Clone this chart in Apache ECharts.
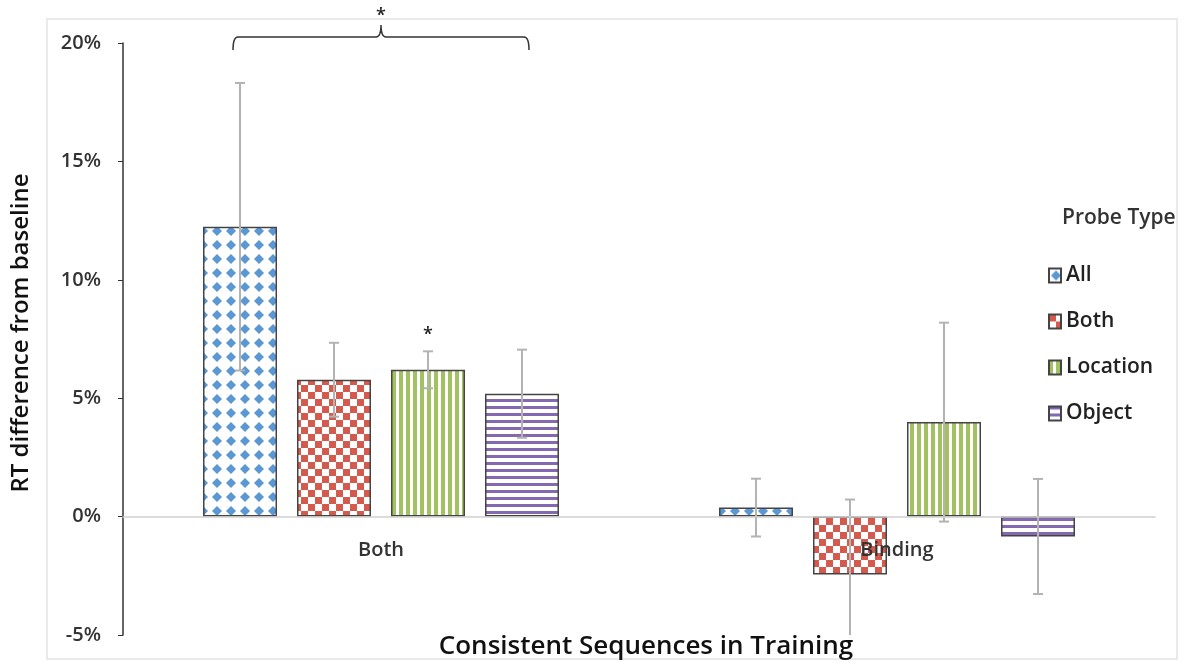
<!DOCTYPE html>
<html lang="en">
<head>
<meta charset="UTF-8">
<title>RT difference from baseline</title>
<script src="https://cdn.jsdelivr.net/npm/echarts@6/dist/echarts.min.js"></script>
<style>
  html, body { margin: 0; padding: 0; background: #fff; }
  #chart { width: 1188px; height: 666px; }
</style>
</head>
<body>
<div id="chart"></div>
<script>
// values in percent
const categories = ['Both', 'Binding'];
const probeTypes = ['All', 'Both', 'Location', 'Object'];
const allVals = [12.24, 0.38];
const allErr = [6.07, 1.22];
const bothVals = [5.78, -2.45];
const bothErr = [1.56, 3.17];
const locationVals = [6.2, 3.99];
const locationErr = [0.78, 4.2];
const objectVals = [5.19, -0.84];
const objectErr = [1.86, 2.43];
const locationSig = ['*', ''];
const yTicks = [-5, 0, 5, 10, 15, 20];

const FONT = '"Open Sans"';
const BAR_W = 74;
const BAR_GAP = 20;

function makePattern(kind) {
  const c = document.createElement('canvas');
  const ctx = c.getContext('2d');
  if (kind === 'dots') {
    c.width = 14; c.height = 14;
    ctx.fillStyle = '#fff'; ctx.fillRect(0, 0, 14, 14);
    ctx.fillStyle = '#5b97d3';
    ctx.beginPath();
    ctx.moveTo(7, 2); ctx.lineTo(12, 7); ctx.lineTo(7, 12); ctx.lineTo(2, 7);
    ctx.closePath(); ctx.fill();
  } else if (kind === 'checker') {
    c.width = 14; c.height = 14;
    ctx.fillStyle = '#fff'; ctx.fillRect(0, 0, 14, 14);
    ctx.fillStyle = '#d35a4d';
    ctx.fillRect(0, 0, 7, 7); ctx.fillRect(7, 7, 7, 7);
  } else if (kind === 'vstripe') {
    c.width = 7; c.height = 7;
    ctx.fillStyle = '#fff'; ctx.fillRect(0, 0, 7, 7);
    ctx.fillStyle = '#a2c160';
    ctx.fillRect(0, 0, 4, 7);
  } else {
    c.width = 7; c.height = 7;
    ctx.fillStyle = '#fff'; ctx.fillRect(0, 0, 7, 7);
    ctx.fillStyle = '#8468b0';
    ctx.fillRect(0, 0, 7, 3);
  }
  return { image: c, repeat: 'repeat' };
}

const seriesVals = [allVals, bothVals, locationVals, objectVals];
const seriesErr = [allErr, bothErr, locationErr, objectErr];
const patterns = ['dots', 'checker', 'vstripe', 'hstripe'];

// rows for the error bar series: [category, series, value, err]
const errRows = [];
seriesVals.forEach((vals, s) => {
  vals.forEach((v, c) => errRows.push([c, s, v, seriesErr[s][c]]));
});

const chart = echarts.init(document.getElementById('chart'));

const barSeries = probeTypes.map((name, s) => ({
  name: name,
  type: 'bar',
  barWidth: BAR_W,
  barGap: (BAR_GAP / BAR_W * 100) + '%',
  data: seriesVals[s],
  itemStyle: {
    color: makePattern(patterns[s]),
    borderColor: '#444',
    borderWidth: 1.5
  },
  z: 2
}));

const errorSeries = {
  type: 'custom',
  name: 'err',
  clip: true,
  z: 5,
  data: errRows,
  renderItem: function (params, api) {
    const c = api.value(0), s = api.value(1), v = api.value(2), e = api.value(3);
    const off = (s - 1.5) * (BAR_W + BAR_GAP);
    const top = api.coord([c, v + e]);
    const bot = api.coord([c, v - e]);
    const x = top[0] + off;
    const cap = 5;
    const style = { stroke: '#b3b3b3', lineWidth: 2 };
    const children = [
      { type: 'line', shape: { x1: x, y1: top[1], x2: x, y2: bot[1] }, style: style },
      { type: 'line', shape: { x1: x - cap, y1: top[1], x2: x + cap, y2: top[1] }, style: style },
      { type: 'line', shape: { x1: x - cap, y1: bot[1], x2: x + cap, y2: bot[1] }, style: style }
    ];
    if (s === 2 && locationSig[c]) {
      children.push({
        type: 'text',
        style: { text: locationSig[c], x: x, y: top[1] - 7, align: 'center', verticalAlign: 'bottom',
          font: '600 18px ' + FONT, fill: '#222' }
      });
    }
    return { type: 'group', children: children };
  }
};

chart.setOption({
  animation: false,
  title: {
    text: 'Probe Type',
    left: 1057,
    top: 203,
    textStyle: { fontFamily: FONT, fontSize: 21, fontWeight: 600, color: '#333' }
  },
  legend: {
    data: probeTypes,
    orient: 'vertical',
    icon: 'rect',
    left: 1043,
    top: 260,
    itemWidth: 12,
    itemHeight: 14,
    itemGap: 25,
    textStyle: { fontFamily: FONT, fontSize: 21, fontWeight: 600, color: '#222' }
  },
  grid: { left: 123, right: 33, top: 43, bottom: 31, outerBoundsMode: 'none' },
  xAxis: {
    type: 'category',
    data: categories,
    z: 10,
    axisLine: { onZero: true, lineStyle: { color: '#d0d0d0', width: 1.5 } },
    axisTick: { show: false },
    // labels sit just under the zero line, which is above the grid bottom
    axisLabel: { margin: -95, fontFamily: FONT, fontSize: 20, fontWeight: 600, color: '#333' },
    name: 'Consistent Sequences in Training',
    nameLocation: 'middle',
    nameGap: -1,
    nameTextStyle: { fontFamily: FONT, fontSize: 26, fontWeight: 600, color: '#111', padding: [0, 0, 0, 14] }
  },
  yAxis: {
    type: 'value',
    min: yTicks[0],
    max: yTicks[yTicks.length - 1],
    interval: 5,
    axisLine: { show: true, lineStyle: { color: '#333', width: 1.5 } },
    axisTick: { show: true, inside: false, length: 5, lineStyle: { color: '#333' } },
    splitLine: { show: false },
    axisLabel: {
      margin: 22,
      formatter: v => v + '%',
      fontFamily: FONT, fontSize: 20, fontWeight: 600, color: '#333'
    },
    name: 'RT difference from baseline',
    nameLocation: 'middle',
    nameGap: 90,
    nameRotate: 90,
    nameTextStyle: { fontFamily: FONT, fontSize: 24, fontWeight: 600, color: '#111', padding: [0, 0, 0, 12] }
  },
  series: barSeries.concat([errorSeries])
});

// significance bracket over the first group, drawn as a polyline
const c0 = chart.convertToPixel({ gridIndex: 0 }, [0, 20]);
const cx = c0[0];
const by = c0[1] - 6;
const half = 148;
function quad(p0, p1, p2, out) {
  for (let t = 0; t <= 1.0001; t += 0.125) {
    const a = (1 - t) * (1 - t), b = 2 * (1 - t) * t, d = t * t;
    out.push([a * p0[0] + b * p1[0] + d * p2[0], a * p0[1] + b * p1[1] + d * p2[1]]);
  }
}
const bracePts = [];
quad([cx - half, by + 13], [cx - half, by], [cx - half + 5, by], bracePts);
quad([cx - 5, by], [cx, by], [cx, by - 12], bracePts);
quad([cx, by - 12], [cx, by], [cx + 5, by], bracePts);
quad([cx + half - 5, by], [cx + half, by], [cx + half, by + 13], bracePts);

chart.setOption({
  graphic: [
    { type: 'rect', shape: { x: 47, y: 19, width: 1130, height: 640 }, silent: true,
      style: { fill: 'none', stroke: '#e3e3e3', lineWidth: 1.5 }, z: -1 },
    { type: 'polyline', shape: { points: bracePts }, style: { fill: 'none', stroke: '#333', lineWidth: 1.5 } },
    { type: 'text', x: cx, y: by - 12, style: { text: '*', font: '600 18px ' + FONT, fill: '#222',
      align: 'center', verticalAlign: 'bottom' } }
  ]
});
</script>
</body>
</html>
